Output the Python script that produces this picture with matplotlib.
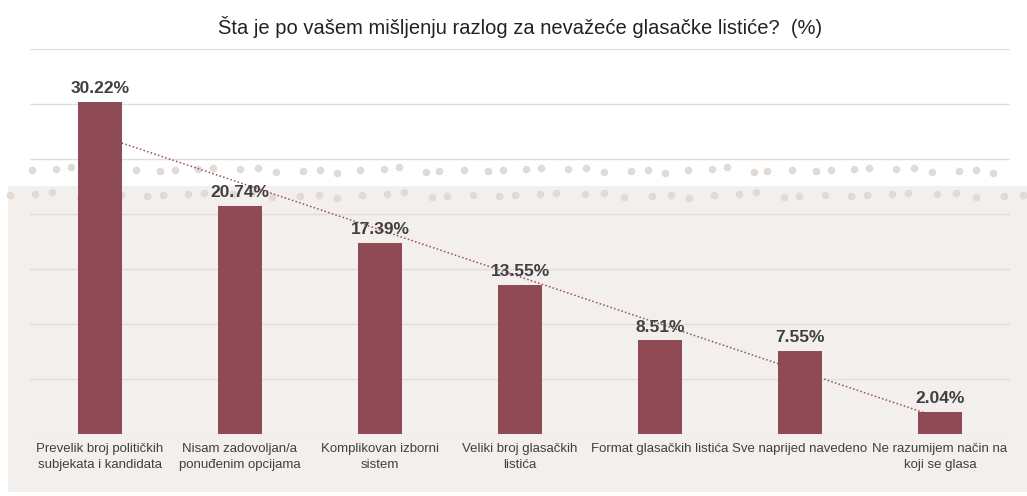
import matplotlib.pyplot as plt
import numpy as np
from matplotlib.patches import Rectangle

plt.rcParams['font.family'] = ['Liberation Sans', 'DejaVu Sans']

categories = [
    "Prevelik broj političkih\nsubjekata i kandidata",
    "Nisam zadovoljan/a\nponuđenim opcijama",
    "Komplikovan izborni\nsistem",
    "Veliki broj glasačkih\nlistića",
    "Format glasačkih listića",
    "Sve naprijed navedeno",
    "Ne razumijem način na\nkoji se glasa",
]
values = [30.22, 20.74, 17.39, 13.55, 8.51, 7.55, 2.04]
title = "Šta je po vašem mišljenju razlog za nevažeće glasačke listiće?  (%)"

bar_color = "#8E4B56"
text_color = "#404040"
beige = "#F3EFEC"
dot_color = "#E2DAD4"

W, H = 1027, 496
fig = plt.figure(figsize=(W / 100, H / 100), dpi=100)

# background decoration in pixel coords
bg = fig.add_axes([0, 0, 1, 1], zorder=0)
bg.set_xlim(0, W)
bg.set_ylim(H, 0)
bg.axis("off")
bg.add_patch(Rectangle((8, 186), W - 8, 306, color=beige, lw=0))
jx = [0, 3, -2, 4, -3, 1, 5, -1, 2, -4, 3, 0, -2, 4, 1, -3]
jy = [0, -2, 1, -1, 2, 0, -3, 1, -1, 2, 0, -2, 1, 3, -1, 0]
for row_y, x0, x1, step in [(170, 32, 1012, 20.5), (195, 10, 1026, 22)]:
    xs = np.arange(x0, x1, step)
    px = [x + jx[i % len(jx)] for i, x in enumerate(xs)]
    py = [row_y + jy[(i * 3) % len(jy)] for i in range(len(xs))]
    bg.scatter(px, py, s=30, color=dot_color, lw=0)

ax = fig.add_axes([30 / W, 62 / H, 980 / W, 385 / H], zorder=1)
ax.set_facecolor("none")
x = np.arange(len(values))

slope, intercept = np.polyfit(x, values, 1)
ax.plot(x, slope * x + intercept, linestyle=(0, (1, 1.5)), color="#9A4E5A", lw=1.1, zorder=2)
ax.bar(x, values, width=0.315, color=bar_color, zorder=3)

for xi, v in zip(x, values):
    ax.text(xi, v + 0.5, f"{v:.2f}%", ha="center", va="bottom",
            fontsize=12.5, fontweight="bold", color=text_color, zorder=4)

ax.set_xlim(-0.5, len(values) - 0.5)
ax.set_ylim(0, 35)
ax.set_yticks(np.arange(0, 36, 5))
ax.yaxis.grid(True, color="#E0DDDA", lw=1)
ax.set_axisbelow(True)
ax.tick_params(left=False, labelleft=False, bottom=False, pad=3)
ax.set_xticks(x)
ax.set_xticklabels(categories, fontsize=9.5, color=text_color, linespacing=1.45)
for s in ax.spines.values():
    s.set_visible(False)

fig.text(520 / W, 1 - 27 / H, title, ha="center", va="center", fontsize=14.5, color="#222222")

fig.savefig("out.png", dpi=100)
